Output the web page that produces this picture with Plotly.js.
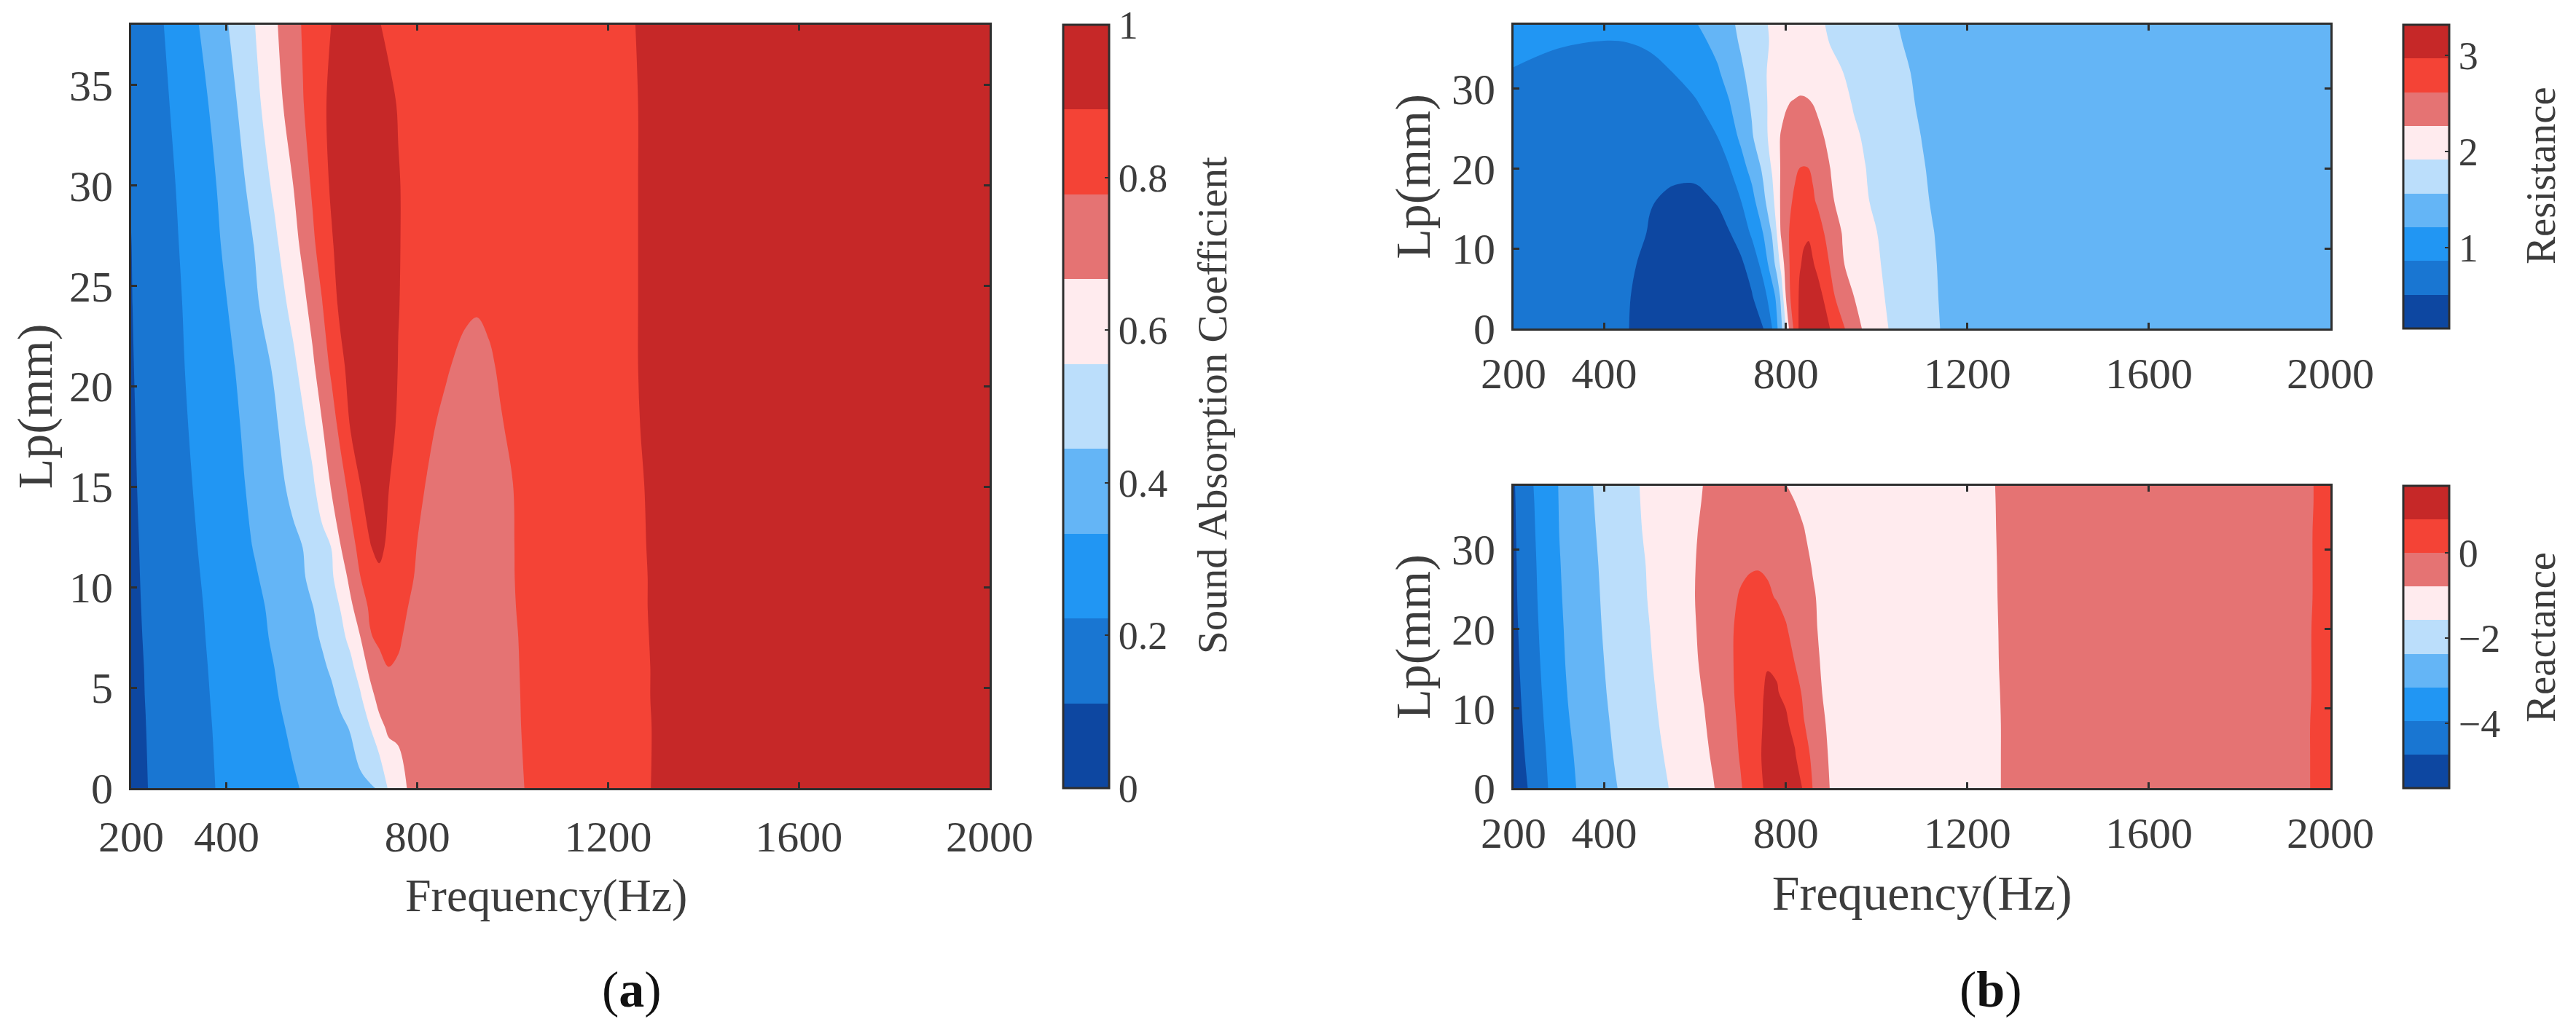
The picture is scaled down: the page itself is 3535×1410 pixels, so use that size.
<!DOCTYPE html>
<html><head><meta charset="utf-8">
<script src="https://cdn.plot.ly/plotly-3.0.1.min.js"></script>
<style>html,body{margin:0;padding:0;background:#fff}</style></head>
<body><div id="chart" style="width:3535px;height:1410px"></div>
<script>
const palette = ['#0D47A1','#1976D2','#2196F3','#64B5F6','#BBDEFB','#FFEBEE','#E57373','#F44336','#C62828'];
const xTicks = [200,400,800,1200,1600,2000];

// (a) Sound absorption coefficient
const absFreq = [200,230,260,300,340,380,420,460,500,540,560,580,600,620,640,660,680,700,720,740,760,780,800,820,840,860,900,925,950,975,1000,1050,1150,1250,1300,1500,2000];
const absLp = [0,3,4.5,6,7.5,9,10.5,12,15,18,21,24,27,30,34,38];
const absZ = [
[.08,.107,.131,.163,.194,.225,.25,.275,.30,.325,.338,.352,.366,.38,.393,.407,.42,.434,.452,.57,.616,.672,.676,.685,.694,.703,.722,.733,.745,.756,.767,.789,.83,.873,.893,.93,.96],
[.09,.11,.134,.166,.199,.23,.258,.287,.316,.346,.362,.378,.394,.41,.43,.449,.50,.55,.635,.685,.688,.69,.693,.70,.707,.715,.73,.74,.75,.76,.771,.79,.834,.874,.892,.93,.96],
[.092,.112,.137,.17,.202,.234,.262,.291,.325,.36,.378,.395,.415,.43,.46,.50,.54,.625,.70,.725,.723,.725,.725,.725,.726,.727,.735,.743,.752,.762,.772,.79,.835,.875,.893,.93,.96],
[.095,.113,.14,.173,.205,.238,.265,.295,.333,.373,.393,.412,.432,.455,.495,.53,.60,.69,.745,.777,.772,.765,.757,.75,.745,.74,.74,.746,.753,.763,.773,.79,.835,.875,.893,.93,.96],
[.097,.115,.142,.176,.208,.244,.272,.305,.345,.39,.41,.428,.452,.49,.53,.583,.663,.768,.797,.805,.785,.768,.757,.75,.746,.742,.742,.748,.754,.764,.774,.79,.836,.876,.894,.93,.96],
[.10,.116,.143,.18,.211,.25,.28,.313,.352,.405,.423,.441,.475,.515,.562,.648,.718,.792,.83,.83,.803,.778,.762,.75,.747,.743,.742,.748,.755,.765,.775,.795,.838,.877,.895,.93,.96],
[.10,.118,.147,.185,.217,.256,.288,.325,.37,.42,.435,.47,.505,.54,.615,.695,.775,.835,.875,.86,.83,.795,.768,.755,.75,.745,.742,.748,.755,.765,.776,.797,.839,.877,.895,.93,.96],
[.10,.12,.15,.19,.223,.262,.295,.34,.39,.425,.445,.48,.52,.557,.667,.74,.808,.885,.905,.876,.85,.82,.775,.762,.755,.748,.742,.748,.755,.765,.776,.80,.84,.878,.896,.93,.96],
[.10,.127,.157,.197,.232,.27,.31,.358,.41,.468,.505,.535,.61,.675,.737,.81,.887,.915,.915,.89,.868,.84,.80,.772,.763,.755,.745,.751,.757,.767,.777,.805,.842,.88,.897,.93,.96],
[.102,.132,.165,.205,.24,.28,.32,.38,.43,.50,.539,.593,.66,.731,.81,.895,.915,.925,.93,.915,.878,.86,.835,.80,.775,.768,.752,.757,.763,.775,.785,.81,.845,.883,.90,.93,.96],
[.105,.137,.17,.21,.25,.285,.337,.40,.454,.536,.588,.648,.722,.796,.868,.92,.935,.94,.94,.925,.887,.87,.85,.83,.805,.782,.766,.768,.772,.783,.79,.82,.85,.885,.90,.93,.96],
[.108,.14,.175,.215,.255,.30,.36,.43,.496,.585,.638,.70,.771,.85,.91,.935,.945,.95,.95,.93,.891,.875,.87,.85,.83,.81,.785,.78,.785,.792,.80,.825,.853,.885,.90,.93,.96],
[.11,.145,.18,.222,.265,.32,.385,.449,.533,.631,.688,.757,.82,.878,.93,.95,.955,.96,.955,.93,.893,.875,.87,.855,.84,.825,.80,.80,.80,.806,.812,.83,.855,.885,.90,.93,.96],
[.115,.15,.185,.23,.28,.335,.405,.484,.573,.667,.73,.79,.846,.903,.945,.96,.965,.97,.96,.93,.893,.875,.87,.86,.848,.835,.815,.812,.81,.815,.82,.835,.86,.885,.90,.93,.96],
[.12,.16,.198,.245,.30,.36,.44,.527,.62,.72,.773,.817,.87,.91,.94,.95,.955,.955,.93,.905,.885,.87,.865,.86,.85,.84,.825,.822,.82,.822,.825,.84,.862,.885,.90,.93,.96],
[.125,.175,.21,.268,.33,.40,.475,.556,.65,.74,.786,.817,.85,.89,.91,.925,.925,.91,.892,.875,.868,.865,.86,.855,.85,.845,.835,.832,.83,.83,.83,.84,.865,.887,.90,.93,.96]
];
const absLevels = {start:1/9, end:8/9, size:1/9};

// (b, top) Resistance
const resFreq = [200,300,400,450,500,550,600,625,650,675,700,725,750,770,780,790,800,810,820,830,840,850,860,870,885,900,925,950,975,1000,1025,1050,1075,1100,1125,1150,1300,2000];
const resLp = [0,4,8,12,16,20,24,28,32,36,38];
const resZ = [
[.66,.62,.56,.52,.42,.34,.30,.30,.31,.33,.36,.42,.50,.862,1.15,1.49,1.916,2.42,2.72,3.03,3.18,3.26,3.28,3.24,3.10,2.94,2.67,2.42,2.2,2.06,1.92,1.816,1.746,1.676,1.606,1.536,1.42,1.4],
[.67,.63,.57,.525,.44,.37,.34,.34,.35,.38,.42,.49,.72,1.07,1.29,1.67,2.267,2.618,2.82,3.0,3.10,3.15,3.15,3.09,2.93,2.70,2.44,2.267,2.12,2.0,1.88,1.805,1.735,1.665,1.595,1.525,1.42,1.4],
[.69,.65,.585,.54,.47,.41,.39,.395,.42,.44,.46,.62,.99,1.40,1.68,2.03,2.42,2.66,2.83,2.95,3.0,3.02,2.99,2.90,2.75,2.57,2.29,2.15,2.05,1.95,1.86,1.796,1.726,1.656,1.586,1.516,1.42,1.4],
[.71,.67,.61,.56,.503,.46,.45,.455,.47,.50,.62,.92,1.22,1.60,1.916,2.33,2.53,2.65,2.76,2.87,2.94,2.95,2.87,2.75,2.61,2.45,2.25,2.12,2.01,1.92,1.84,1.78,1.71,1.64,1.57,1.50,1.42,1.4],
[.74,.70,.64,.59,.517,.495,.49,.50,.52,.66,.85,1.10,1.48,1.80,2.09,2.33,2.48,2.59,2.66,2.70,2.72,2.70,2.65,2.58,2.44,2.31,2.14,2.03,1.94,1.87,1.80,1.749,1.679,1.609,1.54,1.49,1.42,1.4],
[.77,.72,.67,.62,.57,.53,.53,.55,.67,.84,1.07,1.32,1.62,1.95,2.12,2.31,2.44,2.52,2.58,2.62,2.63,2.62,2.58,2.50,2.37,2.25,2.09,1.99,1.92,1.85,1.79,1.726,1.656,1.586,1.52,1.48,1.42,1.4],
[.80,.76,.72,.69,.67,.66,.72,.78,.865,1.04,1.27,1.53,1.80,2.03,2.17,2.30,2.37,2.41,2.44,2.45,2.46,2.44,2.40,2.35,2.26,2.16,2.04,1.95,1.89,1.82,1.76,1.698,1.628,1.558,1.50,1.47,1.42,1.4],
[.82,.80,.77,.75,.735,.74,.83,.91,1.05,1.19,1.40,1.60,1.85,1.99,2.07,2.16,2.24,2.28,2.30,2.32,2.32,2.30,2.267,2.22,2.14,2.06,1.98,1.90,1.85,1.79,1.74,1.662,1.592,1.522,1.48,1.46,1.42,1.4],
[.85,.82,.80,.79,.80,.86,.97,1.06,1.18,1.33,1.50,1.68,1.88,1.97,2.02,2.06,2.09,2.11,2.12,2.13,2.12,2.11,2.09,2.06,2.01,1.97,1.92,1.85,1.80,1.75,1.69,1.634,1.564,1.494,1.47,1.45,1.42,1.4],
[.92,.875,.862,.866,.895,1.0,1.13,1.21,1.30,1.44,1.60,1.72,1.87,1.94,1.97,1.99,2.0,2.01,2.02,2.02,2.01,2.0,1.99,1.97,1.94,1.90,1.84,1.79,1.75,1.70,1.64,1.581,1.511,1.46,1.44,1.43,1.42,1.4],
[.96,.92,.91,.92,.95,1.08,1.19,1.28,1.38,1.49,1.63,1.75,1.88,1.95,1.97,1.99,2.0,2.01,2.01,2.01,2.0,1.99,1.97,1.95,1.92,1.87,1.81,1.76,1.72,1.67,1.61,1.558,1.49,1.45,1.43,1.42,1.42,1.4]
];
const resLevels = {start:.511, end:2.969, size:.3511};

// (b, bottom) Reactance
const reaFreq = [200,220,240,260,280,300,320,340,380,420,460,500,540,580,620,640,660,680,700,720,740,760,780,800,820,840,860,880,900,950,1100,1270,1600,1950,2000];
const reaLp = [0,4,8,12,16,20,24,28,32,36,38];
const reaZ = [
[-5.3,-4.95,-4.56,-4.2,-3.88,-3.63,-3.38,-3.13,-2.78,-2.43,-2.14,-1.87,-1.59,-1.28,-.98,-.82,-.60,-.34,-.06,.28,.62,.95,1.18,1.25,1.08,.72,-.04,-.47,-.85,-1.15,-1.1,-.79,-.45,-.005,.07],
[-5.2,-4.82,-4.45,-4.13,-3.82,-3.55,-3.29,-3.07,-2.71,-2.36,-2.05,-1.79,-1.51,-1.2,-.90,-.72,-.47,-.22,.05,.42,.72,.96,1.06,1.05,.85,.34,-.17,-.58,-.9,-1.15,-1.08,-.79,-.45,-.005,.07],
[-5.15,-4.73,-4.38,-4.05,-3.75,-3.48,-3.2,-3.0,-2.63,-2.3,-1.97,-1.72,-1.44,-1.13,-.83,-.62,-.38,-.14,.11,.42,.72,.89,.93,.88,.62,.03,-.24,-.68,-.95,-1.15,-1.08,-.79,-.45,-.005,.07],
[-5.05,-4.65,-4.3,-3.98,-3.68,-3.4,-3.13,-2.93,-2.57,-2.24,-1.9,-1.67,-1.38,-1.07,-.75,-.53,-.30,-.07,.16,.45,.70,.86,.82,.70,.30,-.13,-.46,-.786,-1.0,-1.15,-1.07,-.788,-.45,-.01,.07],
[-5.0,-4.58,-4.23,-3.92,-3.62,-3.33,-3.07,-2.87,-2.52,-2.2,-1.86,-1.62,-1.32,-1.01,-.68,-.47,-.25,-.05,.18,.42,.62,.76,.74,.45,-.03,-.32,-.60,-.85,-1.02,-1.15,-1.07,-.785,-.45,-.01,.07],
[-4.95,-4.52,-4.18,-3.87,-3.57,-3.29,-3.03,-2.83,-2.48,-2.16,-1.82,-1.58,-1.28,-.97,-.65,-.45,-.24,-.05,.15,.33,.45,.45,.33,.07,-.27,-.50,-.70,-.88,-1.03,-1.15,-1.07,-.783,-.45,-.01,.07],
[-4.9,-4.48,-4.13,-3.83,-3.53,-3.24,-2.99,-2.79,-2.45,-2.13,-1.79,-1.54,-1.25,-.94,-.63,-.44,-.27,-.10,.05,.15,.17,.10,-.04,-.22,-.42,-.58,-.74,-.89,-1.03,-1.15,-1.07,-.78,-.45,-.015,.07],
[-4.88,-4.45,-4.1,-3.8,-3.5,-3.2,-2.96,-2.76,-2.42,-2.1,-1.77,-1.52,-1.23,-.93,-.66,-.50,-.35,-.21,-.10,-.05,-.03,-.08,-.18,-.32,-.50,-.66,-.82,-.93,-1.05,-1.15,-1.07,-.778,-.45,-.015,.07],
[-4.85,-4.42,-4.07,-3.75,-3.46,-3.16,-2.92,-2.72,-2.38,-2.05,-1.73,-1.47,-1.2,-.94,-.70,-.58,-.47,-.38,-.30,-.27,-.27,-.32,-.42,-.55,-.68,-.77,-.88,-.97,-1.06,-1.16,-1.07,-.775,-.45,-.015,.07],
[-4.82,-4.4,-4.03,-3.72,-3.43,-3.14,-2.9,-2.69,-2.34,-2.02,-1.7,-1.44,-1.2,-.98,-.75,-.67,-.60,-.55,-.52,-.50,-.52,-.57,-.64,-.72,-.786,-.85,-.93,-1.0,-1.07,-1.17,-1.08,-.772,-.45,-.02,.07],
[-4.8,-4.38,-4.0,-3.7,-3.42,-3.13,-2.89,-2.68,-2.32,-2.0,-1.69,-1.43,-1.2,-1.0,-.77,-.71,-.66,-.63,-.61,-.62,-.65,-.68,-.73,-.78,-.83,-.89,-.95,-1.02,-1.08,-1.17,-1.08,-.77,-.45,-.02,.07]
];
const reaLevels = {start:-4.731, end:.792, size:.789};

const W = 3535, H = 1410;
const TXT = '#3c3c3c', LINE = '#2e2e2e', SERIF = '"Liberation Serif","Times New Roman",serif';
const stepped = palette.flatMap((c,i)=>[[i/9,c],[(i+1)/9,c]]);

function contourTrace(x,y,z,lv,zmin,zmax,xa,ya,cb){
  return {type:'contour',x,y,z,xaxis:xa,yaxis:ya,zauto:false,zmin,zmax,
    autocontour:false,contours:{start:lv.start,end:lv.end,size:lv.size,coloring:'fill',showlines:false},
    line:{width:0,smoothing:1},colorscale:stepped,hoverinfo:'skip',
    colorbar:Object.assign({xanchor:'left',xref:'paper',yref:'paper',yanchor:'bottom',thicknessmode:'pixels',lenmode:'pixels',
      xpad:0,ypad:0,outlinecolor:LINE,outlinewidth:3,ticks:'inside',ticklen:7,tickwidth:2,tickcolor:LINE,
      tickmode:'array',borderwidth:0},cb)};
}
function xAxis(domain,anchor,title,size,standoff){
  const a={domain,anchor,range:[200,2000],tickmode:'array',tickvals:xTicks,ticks:'inside',ticklen:8,tickwidth:3,tickcolor:LINE,
    showline:true,linecolor:LINE,linewidth:3,mirror:'ticks',showgrid:false,zeroline:false,ticklabelstandoff:standoff,
    tickfont:{family:SERIF,size,color:TXT}};
  if(title) a.title={text:title,font:{family:SERIF,size:68,color:TXT},standoff:26};
  return a;
}
function yAxis(domain,anchor,tickvals,size,titleStandoff){
  return {domain,anchor,range:[0,38],tickmode:'array',tickvals,ticks:'inside',ticklen:8,tickwidth:3,tickcolor:LINE,
    showline:true,linecolor:LINE,linewidth:3,mirror:'ticks',showgrid:false,zeroline:false,ticklabelstandoff:10,
    tickfont:{family:SERIF,size,color:TXT},title:{text:'Lp(mm)',font:{family:SERIF,size:68,color:TXT},standoff:titleStandoff}};
}
const yd = (top,bot)=>[1-bot/H,1-top/H], xd=(l,r)=>[l/W,r/W];
const cbFont={family:SERIF,size:54,color:TXT};
const data=[
 contourTrace(absFreq,absLp,absZ,absLevels,0,1,'x','y',{x:1459/W,y:1-1082/H,thickness:63,len:1048,
   tickvals:[0,.2,.4,.6,.8,1],tickfont:cbFont}),
 contourTrace(resFreq,resLp,resZ,resLevels,.16,3.32,'x2','y2',{x:3298/W,y:1-451/H,thickness:63,len:417,
   tickvals:[1,2,3],tickfont:cbFont}),
 contourTrace(reaFreq,reaLp,reaZ,reaLevels,-5.52,1.58,'x3','y3',{x:3298/W,y:1-1082/H,thickness:63,len:415,
   tickvals:[-4,-2,0],tickfont:cbFont})
];
const cbTitle=(text,x,y)=>({xref:'paper',yref:'paper',x:x/W,y:1-y/H,text,textangle:-90,showarrow:false,xanchor:'center',yanchor:'middle',
  font:{family:SERIF,size:57,color:TXT}});
const panel=(text,x)=>({xref:'paper',yref:'paper',x:x/W,y:1-1358/H,text,showarrow:false,xanchor:'center',yanchor:'middle',
  font:{family:SERIF,size:70,color:'#111'}});
const layout={width:W,height:H,margin:{l:0,r:0,t:0,b:0},paper_bgcolor:'#fff',plot_bgcolor:'#fff',showlegend:false,
 xaxis:xAxis(xd(180,1358),'y',null,60,12),
 yaxis:yAxis(yd(34,1082),'x',[0,5,10,15,20,25,30,35],60,2),
 xaxis2:xAxis(xd(2077,3198),'y2',null,60,7),
 yaxis2:yAxis(yd(34,451),'x2',[0,10,20,30],60,8),
 xaxis3:xAxis(xd(2077,3198),'y3','Frequency(Hz)',60,7),
 yaxis3:yAxis(yd(667,1082),'x3',[0,10,20,30],60,8),
 annotations:[
  {xref:'paper',yref:'paper',x:749/W,y:1-1229/H,text:'Frequency(Hz)',showarrow:false,xanchor:'center',yanchor:'middle',
   font:{family:SERIF,size:64,color:TXT}},
  cbTitle('Sound Absorption Coefficient',1663,557),
  cbTitle('Resistance',3487,241),
  cbTitle('Reactance',3487,875),
  panel('(<b>a</b>)',867),
  panel('(<b>b</b>)',2732)
 ]};
Plotly.newPlot('chart',data,layout,{staticPlot:true,displayModeBar:false});
</script></body></html>
